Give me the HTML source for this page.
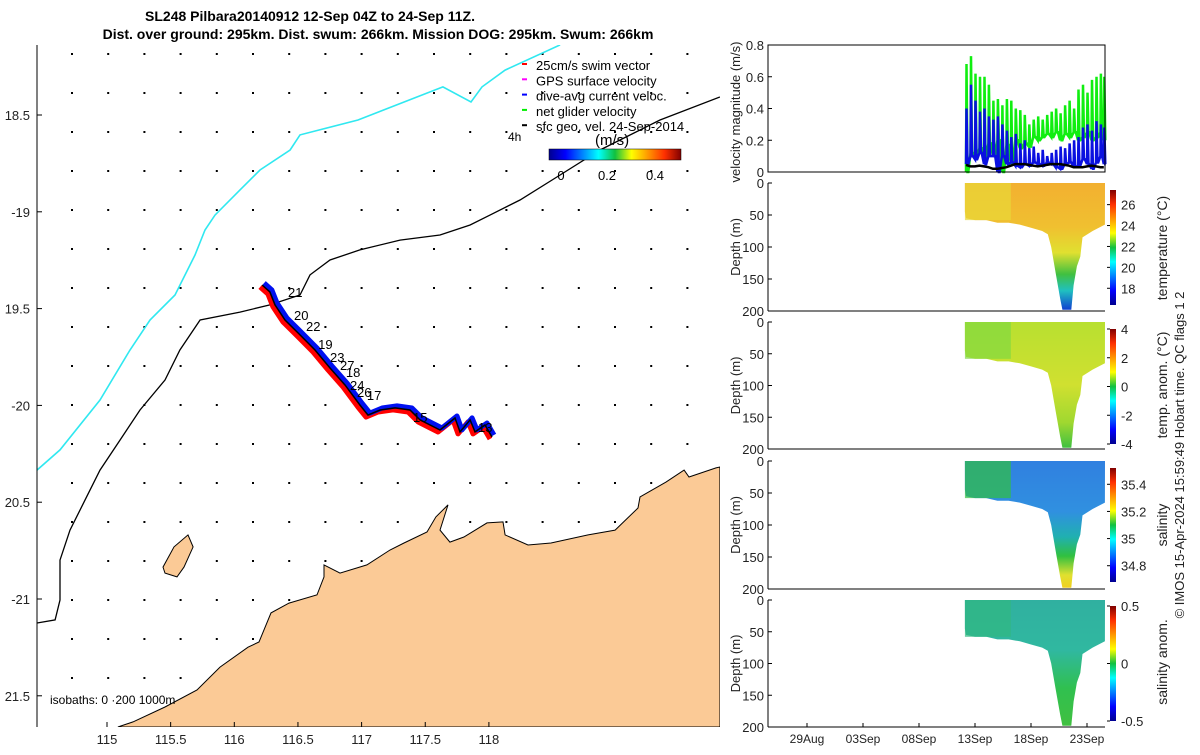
<!DOCTYPE html>
<html><head><meta charset="utf-8"><style>
body{margin:0;background:#fff;font-family:"Liberation Sans","DejaVu Sans",sans-serif}
svg text{font-family:"Liberation Sans","DejaVu Sans",sans-serif}
</style></head><body>
<svg id="chart" width="1200" height="750" viewBox="0 0 1200 750" xmlns="http://www.w3.org/2000/svg">
<defs>
<linearGradient id="jetV" x1="0" y1="1" x2="0" y2="0">
<stop offset="0" stop-color="#00008f"/><stop offset="0.125" stop-color="#0000ff"/><stop offset="0.375" stop-color="#00ffff"/><stop offset="0.5" stop-color="#10c040"/><stop offset="0.625" stop-color="#ffff00"/><stop offset="0.875" stop-color="#ff3000"/><stop offset="1" stop-color="#800000"/></linearGradient>
<linearGradient id="jetH" x1="0" y1="0" x2="1" y2="0">
<stop offset="0" stop-color="#00008f"/><stop offset="0.125" stop-color="#0000ff"/><stop offset="0.375" stop-color="#00ffff"/><stop offset="0.5" stop-color="#10c040"/><stop offset="0.625" stop-color="#ffff00"/><stop offset="0.875" stop-color="#ff3000"/><stop offset="1" stop-color="#800000"/></linearGradient>
<linearGradient id="gTemp" x1="0" y1="0" x2="0" y2="1"><stop offset="0" stop-color="#f2b030"/><stop offset="0.35" stop-color="#f0c030"/><stop offset="0.55" stop-color="#e0e030"/><stop offset="0.72" stop-color="#40c040"/><stop offset="0.85" stop-color="#20c0c0"/><stop offset="1" stop-color="#1040d0"/></linearGradient>
<linearGradient id="gTA" x1="0" y1="0" x2="0" y2="1"><stop offset="0" stop-color="#b8e030"/><stop offset="0.5" stop-color="#d0e030"/><stop offset="0.8" stop-color="#a0d830"/><stop offset="1" stop-color="#40c040"/></linearGradient>
<linearGradient id="gSal" x1="0" y1="0" x2="0" y2="1"><stop offset="0" stop-color="#3080e0"/><stop offset="0.4" stop-color="#3090e0"/><stop offset="0.6" stop-color="#20b0b0"/><stop offset="0.75" stop-color="#30c040"/><stop offset="0.9" stop-color="#e0e030"/><stop offset="1" stop-color="#f0d020"/></linearGradient>
<linearGradient id="gSA" x1="0" y1="0" x2="0" y2="1"><stop offset="0" stop-color="#30b0a0"/><stop offset="0.4" stop-color="#30b8a0"/><stop offset="0.7" stop-color="#30c050"/><stop offset="1" stop-color="#40c040"/></linearGradient>
</defs>
<g id="map"></g>
<g id="right"></g>
</svg>
<script>
// ---- map data ----
const coastLon = [115.086,115.204,115.456,115.707,115.888,116.108,116.194,116.288,116.43,116.65,116.705,116.705,116.83,117.042,117.223,117.333,117.514,117.584,117.679,117.616,117.694,117.804,117.985,118.111,118.127,118.307,118.488,118.779,118.991,119.171,119.187,119.391,119.533,119.572,119.784,119.815];
const coastLat = [-21.661,-21.635,-21.558,-21.47,-21.352,-21.249,-21.222,-21.072,-21.021,-20.979,-20.886,-20.824,-20.866,-20.824,-20.747,-20.711,-20.654,-20.576,-20.514,-20.644,-20.706,-20.68,-20.607,-20.602,-20.669,-20.721,-20.711,-20.669,-20.644,-20.53,-20.473,-20.396,-20.334,-20.37,-20.323,-20.318];
const islandLon = [115.636,115.676,115.605,115.55,115.456,115.44,115.526,115.636];
const islandLat = [-20.669,-20.731,-20.835,-20.886,-20.866,-20.835,-20.731,-20.669];
const iso200Lon = [114.45,114.592,114.631,114.631,114.709,114.827,114.945,115.102,115.259,115.456,115.573,115.731,116.045,116.28,116.516,116.595,116.752,116.987,117.302,117.616,117.852,118.009,118.244,118.559,118.873,119.344,119.815];
const iso200Lat = [-21.124,-21.108,-21.005,-20.799,-20.644,-20.489,-20.334,-20.179,-20.024,-19.869,-19.714,-19.559,-19.518,-19.481,-19.43,-19.326,-19.249,-19.197,-19.146,-19.12,-19.068,-19.017,-18.939,-18.81,-18.681,-18.526,-18.407];
const iso0Lon = [114.45,114.631,114.945,115.181,115.338,115.534,115.691,115.77,115.848,116.045,116.202,116.438,116.516,116.972,117.639,117.859,117.946,118.127,118.559];
const iso0Lat = [-20.334,-20.23,-19.972,-19.714,-19.559,-19.43,-19.223,-19.094,-19.017,-18.887,-18.784,-18.681,-18.603,-18.526,-18.355,-18.433,-18.355,-18.268,-18.138];
const trackLon = [116.218,116.28,116.32,116.398,116.516,116.634,116.752,116.87,116.987,117.05,117.145,117.262,117.38,117.459,117.616,117.734,117.773,117.852,117.891,117.969,118.024];
const trackLat = [-19.378,-19.414,-19.481,-19.559,-19.636,-19.714,-19.807,-19.895,-19.998,-20.05,-20.024,-20.013,-20.024,-20.075,-20.127,-20.065,-20.137,-20.075,-20.137,-20.101,-20.163];
const trackLabels = ["21","20","22","19","23","27","18","24","26","17","15","13"];
const labelLon = [116.422,116.469,116.563,116.658,116.752,116.83,116.877,116.909,116.964,117.042,117.404,117.914];
const labelLat = [-19.44,-19.559,-19.616,-19.709,-19.776,-19.817,-19.853,-19.92,-19.957,-19.972,-20.086,-20.137];
const lonTicks = [115,115.5,116,116.5,117,117.5,118];
const latTicks = [-18.5,-19,-19.5,-20,-20.5,-21,-21.5];
const latTickText = ["18.5","-19","19.5","-20","20.5","-21","21.5"];
// ---- time series data (day of September) ----
const velDays = [12.2,12.6,13.0,13.4,13.8,14.2,14.6,15.0,15.4,15.8,16.2,16.6,17.0,17.4,17.8,18.2,18.6,19.0,19.4,19.8,20.2,20.6,21.0,21.4,21.8,22.2,22.6,23.0,23.4,23.8,24.2,24.5];
const netPeak = [0.68,0.73,0.62,0.6,0.6,0.55,0.45,0.46,0.42,0.46,0.45,0.4,0.39,0.36,0.3,0.33,0.35,0.33,0.36,0.38,0.4,0.37,0.42,0.45,0.4,0.52,0.55,0.5,0.58,0.6,0.62,0.6];
const netLow = [0.0,0.12,0.1,0.15,0.1,0.18,0.1,0.2,0.0,0.17,0.05,0.2,0.15,0.18,0.16,0.22,0.2,0.22,0.24,0.22,0.25,0.2,0.24,0.22,0.25,0.2,0.22,0.25,0.2,0.22,0.25,0.2];
const curPeak = [0.4,0.55,0.45,0.38,0.4,0.35,0.33,0.35,0.3,0.26,0.22,0.24,0.18,0.2,0.15,0.16,0.12,0.14,0.1,0.12,0.14,0.16,0.15,0.18,0.2,0.22,0.28,0.3,0.26,0.32,0.3,0.28];
const curLow = [0.05,0.1,0.08,0.12,0.05,0.1,0.1,0.0,0.1,0.05,0.06,0.04,0.03,0.05,0.04,0.06,0.05,0.04,0.06,0.05,0.03,0.02,0.05,0.06,0.03,0.04,0.08,0.05,0.02,0.06,0.1,0.05];
const geoVel = [0.045,0.035,0.035,0.04,0.035,0.03,0.02,0.02,0.025,0.03,0.04,0.05,0.05,0.05,0.045,0.04,0.035,0.04,0.045,0.05,0.05,0.05,0.045,0.04,0.03,0.03,0.03,0.035,0.04,0.035,0.03,0.03];
const sectDays = [12.1,12.2,13,14,15,16,17,18,19,19.5,19.8,20.2,20.6,20.8,21.6,21.8,22.1,22.4,22.6,23.5,24.6];
const sectMaxDepth = [45,55,58,58,62,62,65,70,75,80,100,140,180,198,198,160,130,115,85,75,65];
const dateTicks = [-2,3,8,13,18,23];
const dateLabels = ["29Aug","03Sep","08Sep","13Sep","18Sep","23Sep"];
const tempTicks = [26,24,22,20,18];
const taTicks = [4,2,0,-2,-4];
const salTicks = [35.4,35.2,35,34.8];
const saTicks = [0.5,0,-0.5];

const NS="http://www.w3.org/2000/svg";
function mk(parent,tag,attrs,text){const e=document.createElementNS(NS,tag);for(const k in attrs)e.setAttribute(k,attrs[k]);if(text!==undefined)e.textContent=text;parent.appendChild(e);return e;}
const map=document.getElementById('map'), right=document.getElementById('right');
const MX0=37,MX1=720,MY0=45,MY1=727;
const lonX=l=>107+(l-115)*127.3;
const latY=l=>115+(-18.5-l)*193.6;
function pts(lons,lats){return lons.map((l,i)=>lonX(l).toFixed(1)+','+latY(lats[i]).toFixed(1)).join(' ');}

// title
let t=mk(map,'text',{x:310,y:21,'font-size':14,'font-weight':'bold','text-anchor':'middle'},'SL248 Pilbara20140912 12-Sep 04Z to 24-Sep 11Z.');

t=mk(map,'text',{x:378,y:39,'font-size':14,'font-weight':'bold','text-anchor':'middle'},'Dist. over ground: 295km. Dist. swum: 266km. Mission DOG: 295km. Swum: 266km');


const clip=mk(map,'clipPath',{id:'mclip'});mk(clip,'rect',{x:MX0,y:MY0,width:MX1-MX0,height:MY1-MY0});
const mg=mk(map,'g',{'clip-path':'url(#mclip)'});

// current dots
const dots=mk(mg,'g',{fill:'#000'});

for(let y=53;y<=715;y+=39)for(let x=71;x<=720;x+=36.2){mk(dots,'rect',{x:x.toFixed(1),y:y,width:2,height:2});}
// land
const landPts=pts(coastLon,coastLat)+' 720,727 118,727';
let land=mk(mg,'polygon',{points:landPts,fill:'#fbca96',stroke:'#000','stroke-width':1});

let isl=mk(mg,'polygon',{points:pts(islandLon,islandLat),fill:'#fbca96',stroke:'#000','stroke-width':1});

let i2=mk(mg,'polyline',{points:pts(iso200Lon,iso200Lat),fill:'none',stroke:'#000','stroke-width':1.3});

let i0=mk(mg,'polyline',{points:pts(iso0Lon,iso0Lat),fill:'none',stroke:'#30e8f0','stroke-width':1.6});

// track
let tb=mk(mg,'polyline',{points:pts(trackLon,trackLat),fill:'none',stroke:'#f00','stroke-width':5,'stroke-linejoin':'round',transform:'translate(-2,2)'});

let tbl=mk(mg,'polyline',{points:pts(trackLon,trackLat),fill:'none',stroke:'#0010f0','stroke-width':5,'stroke-linejoin':'round',transform:'translate(2,-2)'});

let tk=mk(mg,'polyline',{points:pts(trackLon,trackLat),fill:'none',stroke:'#000','stroke-width':1.5});

trackLabels.forEach((s,i)=>{const e=mk(mg,'text',{x:lonX(labelLon[i]).toFixed(1),y:latY(labelLat[i]).toFixed(1),'font-size':13},s);

});
// legend
const legItems=[['25cm/s swim vector','#f00'],['GPS surface velocity','#f0f'],['dive-avg current veloc.','#00f'],['net glider velocity','#0e0'],['sfc geo. vel. 24-Sep-2014','#000']];
legItems.forEach((it,i)=>{const y=66+i*15.3;mk(mg,'rect',{x:522,y:y-3,width:5,height:2,fill:it[1]});
const e=mk(mg,'text',{x:536,y:y+4,'font-size':13},it[0]);

});
t=mk(mg,'text',{x:508,y:141,'font-size':12},'4h');
t=mk(mg,'text',{x:595,y:145,'font-size':15},'(m/s)');
let cb=mk(mg,'rect',{x:549,y:149,width:132,height:11,fill:'url(#jetH)',stroke:'#000','stroke-width':0.5});

[['0',561],['0.2',607],['0.4',655]].forEach(a=>{const e=mk(mg,'text',{x:a[1],y:180,'font-size':13,'text-anchor':'middle'},a[0]);

});
t=mk(mg,'text',{x:50,y:704,'font-size':12},'isobaths: 0 ·200  1000m');
// axes
mk(map,'line',{x1:MX0,y1:MY0,x2:MX0,y2:MY1,stroke:'#000'});
lonTicks.forEach(l=>{const x=lonX(l);mk(map,'line',{x1:x,y1:MY1,x2:x,y2:MY1-5,stroke:'#000'});
const e=mk(map,'text',{x:x,y:744,'font-size':13,'text-anchor':'middle',fill:'#222'},String(l));

});
latTicks.forEach((l,i)=>{const y=latY(l);mk(map,'line',{x1:MX0,y1:y,x2:MX0+5,y2:y,stroke:'#000'});
const e=mk(map,'text',{x:30,y:y+5,'font-size':13,'text-anchor':'end',fill:'#222'},latTickText[i]);

});

// ---- right panels ----
const RX0=768,RX1=1105;
const dayX=d=>807+11.2*(d+2);
const panels=[{y0:183,y1:311,fill:'url(#gTemp)',name:'temperature-section'},{y0:322,y1:449,fill:'url(#gTA)',name:'temp-anomaly-section'},{y0:461,y1:589,fill:'url(#gSal)',name:'salinity-section'},{y0:600,y1:727,fill:'url(#gSA)',name:'salinity-anomaly-section'}];
// velocity panel
const vY0=45,vY1=172,vy=v=>vY1-v/0.8*(vY1-vY0);
function spikes(pk,lo){let s='';velDays.forEach((d,i)=>{const x=dayX(d);const nx=i<velDays.length-1?dayX(velDays[i+1]):x+4;s+=(i?' L':'M')+x.toFixed(1)+','+vy(lo[i]).toFixed(1)+' L'+(x+0.5).toFixed(1)+','+vy(pk[i]).toFixed(1)+' L'+(x+1.5).toFixed(1)+','+vy(lo[i]).toFixed(1)+' L'+((x+nx)/2).toFixed(1)+','+vy(lo[i]).toFixed(1);});return s;}
let g1=mk(right,'path',{d:spikes(netPeak,netLow),fill:'none',stroke:'#10ee10','stroke-width':2.5});

let b1=mk(right,'path',{d:spikes(curPeak,curLow),fill:'none',stroke:'#0a10e0','stroke-width':2.5});

let k1=mk(right,'polyline',{points:velDays.map((d,i)=>dayX(d).toFixed(1)+','+vy(geoVel[i]).toFixed(1)).join(' '),fill:'none',stroke:'#000','stroke-width':2.5});

let vb=mk(right,'rect',{x:RX0,y:vY0,width:RX1-RX0,height:vY1-vY0,fill:'none',stroke:'#000'});

[0,0.2,0.4,0.6,0.8].forEach(v=>{mk(right,'line',{x1:RX0,y1:vy(v),x2:RX0+4,y2:vy(v),stroke:'#000'});
const e=mk(right,'text',{x:764,y:vy(v)+5,'font-size':13,'text-anchor':'end',fill:'#222'},String(v));

});
t=mk(right,'text',{x:0,y:0,'font-size':13,'text-anchor':'middle',fill:'#222',transform:'translate(740,112) rotate(-90)'},'velocity magnitude (m/s)');

// sections
const cbars=[{y0:190,y1:305,ticks:tempTicks,lo:16.4,hi:27.4,title:'temperature (°C)',ty:248},{y0:329,y1:444,ticks:taTicks,lo:-4,hi:4,title:'temp. anom. (°C)',ty:385},{y0:468,y1:582,ticks:salTicks,lo:34.68,hi:35.52,title:'salinity',ty:525},{y0:606,y1:721,ticks:saTicks,lo:-0.5,hi:0.5,title:'salinity anom.',ty:662}];
panels.forEach((p,pi)=>{
 const dy=d=>p.y0+d/200*(p.y1-p.y0);
 let s='M'+dayX(sectDays[0]).toFixed(1)+','+p.y0;
 sectDays.forEach((d,i)=>{s+=' L'+dayX(d).toFixed(1)+','+dy(sectMaxDepth[i]).toFixed(1);});
 s+=' L'+RX1+','+p.y0+' Z';
 const sec=mk(right,'path',{d:s,fill:p.fill});
 
 
 const leftCol=['#e8d838','#80d840','#30c040','#30b880'][pi];
 const ov=mk(right,'rect',{x:dayX(12.1),y:p.y0,width:dayX(16.2)-dayX(12.1),height:dy(58)-p.y0,fill:leftCol,opacity:0.7});
 
 
 mk(right,'line',{x1:RX0,y1:p.y0,x2:RX0,y2:p.y1,stroke:'#000'});
 mk(right,'line',{x1:RX0,y1:p.y1,x2:RX1,y2:p.y1,stroke:'#000'});
 [0,50,100,150,200].forEach(d=>{mk(right,'line',{x1:RX0,y1:dy(d),x2:RX0+4,y2:dy(d),stroke:'#000'});
 const e=mk(right,'text',{x:764,y:dy(d)+5,'font-size':13,'text-anchor':'end',fill:'#222'},String(d));
 
 });
 const yt=mk(right,'text',{x:0,y:0,'font-size':13,'text-anchor':'middle',fill:'#222',transform:'translate(740,'+((p.y0+p.y1)/2)+') rotate(-90)'},'Depth (m)');
 
 
 const c=cbars[pi];
 const bar=mk(right,'rect',{x:1110,y:c.y0,width:6,height:c.y1-c.y0,fill:'url(#jetV)'});
 
 
 c.ticks.forEach(v=>{const y=c.y1-(v-c.lo)/(c.hi-c.lo)*(c.y1-c.y0);mk(right,'line',{x1:1107,y1:y,x2:1110,y2:y,stroke:'#000'});
 const e=mk(right,'text',{x:1121,y:y+5,'font-size':13,fill:'#222'},String(v));
 
 });
 const ct=mk(right,'text',{x:0,y:0,'font-size':14,'text-anchor':'middle',fill:'#222',transform:'translate(1167,'+c.ty+') rotate(-90)'},c.title);
 
 
});
dateTicks.forEach((d,i)=>{const x=dayX(d);mk(right,'line',{x1:x,y1:727,x2:x,y2:723,stroke:'#000'});
const e=mk(right,'text',{x:x,y:743,'font-size':12,'text-anchor':'middle',fill:'#222'},dateLabels[i]);

});
t=mk(right,'text',{x:0,y:0,'font-size':13,'text-anchor':'middle',fill:'#222',transform:'translate(1184,455) rotate(-90)'},'© IMOS 15-Apr-2024 15:59:49 Hobart time. QC flags 1  2');

</script>
</body></html>
